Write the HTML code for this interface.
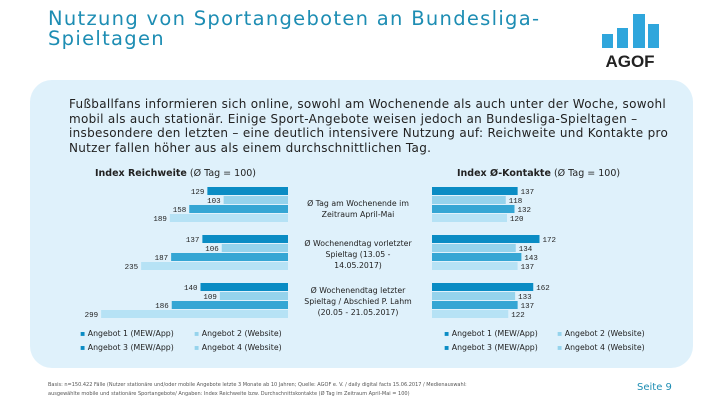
<!DOCTYPE html>
<html><head><meta charset="utf-8"><style>
body{margin:0;width:720px;height:405px;background:#fff;font-family:"DejaVu Sans",sans-serif;position:relative;overflow:hidden}
.t{position:absolute;white-space:nowrap}
</style></head><body>
<div class="t" style="left:48px;top:9px;font-size:19.5px;line-height:20px;letter-spacing:1.3px;color:#1d8db3">Nutzung von Sportangeboten an Bundesliga-<br>Spieltagen</div>
<svg style="position:absolute;left:596px;top:10px" width="70" height="60">
<rect x="6" y="24" width="11" height="14" fill="#2fa6dc"/><rect x="21" y="18" width="11" height="20" fill="#2fa6dc"/><rect x="37" y="4" width="12" height="34" fill="#2fa6dc"/><rect x="52" y="14" width="11" height="24" fill="#2fa6dc"/>
<text x="34" y="57" text-anchor="middle" font-size="17" font-weight="bold" fill="#222" font-family="Liberation Sans">AGOF</text></svg>
<div style="position:absolute;left:30px;top:80px;width:663px;height:288px;background:#dff1fb;border-radius:22px"></div>
<div class="t" style="left:69px;top:97px;font-size:12px;line-height:14.7px;letter-spacing:0.3px;color:#222">Fußballfans informieren sich online, sowohl am Wochenende als auch unter der Woche, sowohl<br>mobil als auch stationär. Einige Sport-Angebote weisen jedoch an Bundesliga-Spieltagen –<br>insbesondere den letzten – eine deutlich intensivere Nutzung auf: Reichweite und Kontakte pro<br>Nutzer fallen höher aus als einem durchschnittlichen Tag.</div>
<div class="t" style="left:95px;top:168px;font-size:9.5px;color:#222"><b>Index Reichweite</b> (Ø Tag = 100)</div>
<div class="t" style="left:457px;top:168px;font-size:9.5px;color:#222"><b>Index Ø-Kontakte</b> (Ø Tag = 100)</div>
<div class="t" style="left:298px;top:198px;width:120px;text-align:center;font-size:7.8px;line-height:11px;color:#222">Ø Tag am Wochenende im<br>Zeitraum April-Mai</div>
<div class="t" style="left:298px;top:238px;width:120px;text-align:center;font-size:7.8px;line-height:11px;color:#222">Ø Wochenendtag vorletzter<br>Spieltag (13.05 -<br>14.05.2017)</div>
<div class="t" style="left:298px;top:285px;width:120px;text-align:center;font-size:7.8px;line-height:11px;color:#222">Ø Wochenendtag letzter<br>Spieltag / Abschied P. Lahm<br>(20.05 - 21.05.2017)</div>
<svg id="ch" style="position:absolute;left:0;top:0" width="720" height="405"></svg>
<div class="t" style="left:80px;top:327px;font-size:7.8px;line-height:14px;color:#222">
<span style="color:#0a8cc4">▪</span> Angebot 1 (MEW/App)<br><span style="color:#0a8cc4">▪</span> Angebot 3 (MEW/App)</div>
<div class="t" style="left:194px;top:327px;font-size:7.8px;line-height:14px;color:#222">
<span style="color:#95d3ec">▪</span> Angebot 2 (Website)<br><span style="color:#95d3ec">▪</span> Angebot 4 (Website)</div>
<div class="t" style="left:444px;top:327px;font-size:7.8px;line-height:14px;color:#222">
<span style="color:#0a8cc4">▪</span> Angebot 1 (MEW/App)<br><span style="color:#0a8cc4">▪</span> Angebot 3 (MEW/App)</div>
<div class="t" style="left:557px;top:327px;font-size:7.8px;line-height:14px;color:#222">
<span style="color:#95d3ec">▪</span> Angebot 2 (Website)<br><span style="color:#95d3ec">▪</span> Angebot 4 (Website)</div>
<div class="t" style="left:48px;top:381px;font-size:5px;line-height:9px;color:#555">Basis: n=150.422 Fälle (Nutzer stationäre und/oder mobile Angebote letzte 3 Monate ab 10 Jahren; Quelle: AGOF e. V. / daily digital facts 15.06.2017 / Medienauswahl:<br>ausgewählte mobile und stationäre Sportangebote/ Angaben: Index Reichweite bzw. Durchschnittskontakte (Ø Tag im Zeitraum April-Mai = 100)</div>
<div class="t" style="left:637px;top:382px;font-size:10px;color:#1d8db3">Seite 9</div>
<script>
const groups=["Wochenende April-Mai","Vorletzter Spieltag","Letzter Spieltag"];
const reach1=[129,137,140];
const reach2=[103,106,109];
const reach3=[158,187,186];
const reach4=[189,235,299];
const cont1=[137,172,162];
const cont2=[118,134,133];
const cont3=[132,143,137];
const cont4=[120,137,122];
const colors=["#0a8cc4","#95d3ec","#35a6d4","#b6e2f5"];
const svg=document.getElementById('ch');const NS="http://www.w3.org/2000/svg";
const k=0.625;
function len(v){return v*k;}
function rowY(g,s){return 187+g*48+s*9;}
function mk(tag,at){const e=document.createElementNS(NS,tag);for(const a in at)e.setAttribute(a,at[a]);svg.appendChild(e);return e;}
const L=[reach1,reach2,reach3,reach4],R=[cont1,cont2,cont3,cont4];
groups.forEach((g,gi)=>{for(let s=0;s<4;s++){
 const y=rowY(gi,s);
 let v=L[s][gi],w=len(v);
 let r=mk('rect',{x:288-w,y:y,width:w,height:8,fill:colors[s]});
 
 
 let t=mk('text',{x:288-w-3,y:y+7,'text-anchor':'end','font-size':7.5,'font-family':'Liberation Mono',fill:'#222'});t.textContent=v;
 
 
 v=R[s][gi];w=len(v);
 r=mk('rect',{x:432,y:y,width:w,height:8,fill:colors[s]});
 
 
 t=mk('text',{x:432+w+3,y:y+7,'font-size':7.5,'font-family':'Liberation Mono',fill:'#222'});t.textContent=v;
 
 
}});
</script>
</body></html>
